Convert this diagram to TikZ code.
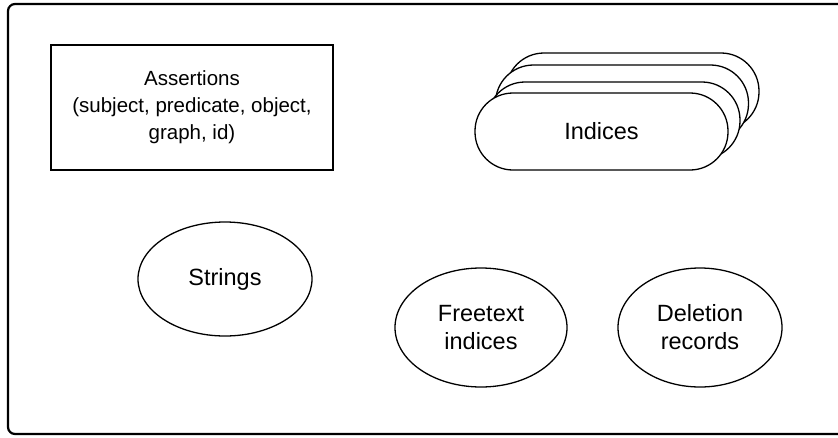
\documentclass[tikz,border=0pt]{standalone}
\usepackage{fontspec}
\setmainfont{Liberation Sans}
\usetikzlibrary{shapes.geometric}

\tikzset{
  frame/.style={line width=2.2pt, rounded corners=7pt},
  label/.style={font=\fontsize{23.5}{28}\selectfont, align=center, text=black},
  storebox/.style={draw, line width=1.4pt, inner sep=0pt, align=center,
    font=\fontsize{20.5}{27}\selectfont,
    minimum width=282pt, minimum height=125pt},
  capsule/.style={label, draw, fill=white, line width=1.3pt, inner sep=0pt,
    rounded corners=38pt, minimum width=253pt, minimum height=77pt},
  blob/.style={label, draw, ellipse, line width=1.3pt, inner sep=0pt}
}

\begin{document}
\begin{tikzpicture}[x=1pt, y=-1pt]
  \useasboundingbox (0,0) rectangle (838,437);
  \clip (0,0) rectangle (838,437);

  % outer container, open to the right
  \draw[frame] (8,4) rectangle (900,434);

  % assertions table
  \node[storebox] (assert) at (192,107.5)
    {Assertions\\(subject, predicate, object,\\graph, id)};

  % stack of index capsules, back to front
  \node[capsule] (idx4) at (632.5,91.5) {};
  \node[capsule] (idx3) at (622,103.5) {};
  \node[capsule] (idx2) at (613.5,120.5) {};
  \node[capsule] (idx1) at (601.5,131.5) {Indices};

  % other stores
  \node[blob, minimum width=174pt, minimum height=114pt] (strings) at (225,279) {Strings};
  \node[blob, minimum width=172pt, minimum height=119pt] (freetext) at (481,327.5) {Freetext\\indices};
  \node[blob, minimum width=164pt, minimum height=119pt] (deletion) at (700,327.5) {Deletion\\records};
\end{tikzpicture}
\end{document}
